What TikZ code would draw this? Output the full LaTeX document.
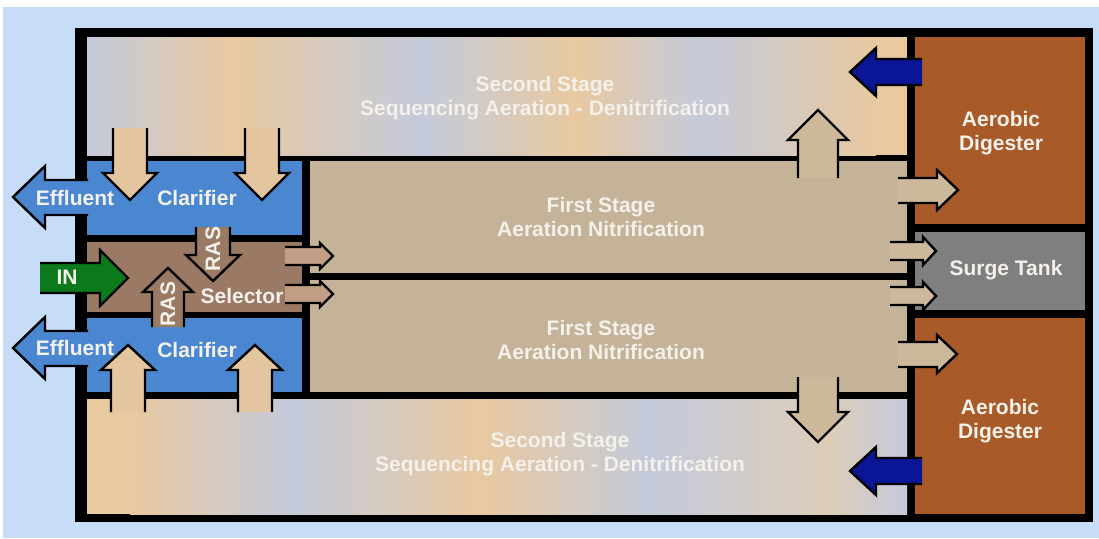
\documentclass[tikz,border=0pt]{standalone}
\usepackage{fontspec}
\setmainfont{Liberation Sans}
\definecolor{skyback}{HTML}{C7DCF6}
\definecolor{stagegrey}{HTML}{C4CADB}
\definecolor{stagetan}{HTML}{E8C9A0}
\definecolor{stagepale}{HTML}{DDCDB8}
\definecolor{firsttan}{HTML}{C4B398}
\definecolor{clarblue}{HTML}{4A87D0}
\definecolor{selbrown}{HTML}{9A7A64}
\definecolor{digbrown}{HTML}{A85A28}
\definecolor{surgegrey}{HTML}{7F7F7F}
\definecolor{ingreen}{HTML}{0C7A1C}
\definecolor{retblue}{HTML}{0A1696}
\definecolor{clartan}{HTML}{E3C6A0}
\definecolor{flowtan}{HTML}{CDB89C}
\definecolor{seltan}{HTML}{C39E86}
\definecolor{txtwhite}{HTML}{F4F0EA}

\begin{document}
\begin{tikzpicture}[x=1pt,y=-1pt]
\tikzset{txt/.style={text=txtwhite, font=\fontsize{21}{24}\selectfont\bfseries, align=center, inner sep=0pt},
arr/.style={draw=black, line width=2.4pt, line join=miter}}
\useasboundingbox (0,0) rectangle (1099,538);
\fill[white] (0,0) rectangle (1099,538);
\fill[skyback] (3,7) rectangle (1099,538);
% walls and basins
\fill[black] (75,28) rectangle (1093,522);
\fill[clarblue] (87,161) rectangle (302,235);
\fill[selbrown] (87,242) rectangle (302,312);
\fill[clarblue] (87,318) rectangle (302,392);
\fill[firsttan] (310,161) rectangle (907,273);
\fill[firsttan] (310,280) rectangle (907,392);
\fill[digbrown] (915,37) rectangle (1085,224);
\fill[surgegrey] (915,232) rectangle (1085,310);
\fill[digbrown] (915,318) rectangle (1085,514);
% second stage, top
\fill[stagetan] (860,37) rectangle (907,155);
\shade[left color=stagegrey, right color=stagetan] (87,37) rectangle (232,155);
\shade[left color=stagetan, right color=stagegrey] (231,37) rectangle (421,155);
\shade[left color=stagegrey, right color=stagetan] (420,37) rectangle (576,155);
\shade[left color=stagetan, right color=stagegrey] (575,37) rectangle (701,155);
\shade[left color=stagegrey, right color=stagetan] (700,37) rectangle (876,155);
% second stage, bottom
\fill[stagetan] (87,399) rectangle (140,514);
\shade[left color=stagetan, right color=stagegrey] (130,399) rectangle (291,514);
\shade[left color=stagegrey, right color=stagetan] (290,399) rectangle (481,514);
\shade[left color=stagetan, right color=stagegrey] (480,399) rectangle (651,514);
\shade[left color=stagegrey, right color=stagepale] (650,399) rectangle (831,514);
\shade[left color=stagepale, right color=stagegrey] (830,399) rectangle (907,514);
% flows
\filldraw[arr, fill=clarblue] (88,180) -- (45,180) -- (45,166) -- (13,197) -- (45,228) -- (45,215) -- (88,215);
\filldraw[arr, fill=clarblue] (88,331) -- (45,331) -- (45,317) -- (13,348) -- (45,379) -- (45,366) -- (88,366);
\filldraw[arr, fill=ingreen] (40,263) -- (100,263) -- (100,250) -- (128,278) -- (100,306) -- (100,293) -- (40,293);
\filldraw[arr, fill=clartan] (113,128) -- (113,173) -- (103,173) -- (130,200) -- (157,173) -- (147,173) -- (147,128);
\filldraw[arr, fill=clartan] (245,128) -- (245,173) -- (235,173) -- (262,200) -- (289,173) -- (279,173) -- (279,128);
\filldraw[arr, fill=clartan] (111,412) -- (111,370) -- (101,370) -- (128,345) -- (155,370) -- (145,370) -- (145,412);
\filldraw[arr, fill=clartan] (238,412) -- (238,370) -- (228,370) -- (255,345) -- (282,370) -- (272,370) -- (272,412);
\filldraw[arr, fill=selbrown] (196,227) -- (196,255) -- (186,255) -- (213,281) -- (240,255) -- (230,255) -- (230,227);
\filldraw[arr, fill=selbrown] (152,327) -- (152,292) -- (143,292) -- (168,268) -- (193,292) -- (184,292) -- (184,327);
\filldraw[arr, fill=seltan] (285,247) -- (320,247) -- (320,243) -- (333,256) -- (320,269) -- (320,265) -- (285,265);
\filldraw[arr, fill=seltan] (285,285) -- (320,285) -- (320,281) -- (333,294) -- (320,307) -- (320,303) -- (285,303);
\filldraw[arr, fill=flowtan] (798,178) -- (798,140) -- (788,140) -- (818,110) -- (848,140) -- (838,140) -- (838,178);
\filldraw[arr, fill=flowtan] (798,377) -- (798,412) -- (788,412) -- (818,442) -- (848,412) -- (838,412) -- (838,377);
\filldraw[arr, fill=flowtan] (898,178) -- (937,178) -- (937,170) -- (958,190) -- (937,210) -- (937,203) -- (898,203);
\filldraw[arr, fill=flowtan] (890,242) -- (923,242) -- (923,237) -- (936,251) -- (923,265) -- (923,260) -- (890,260);
\filldraw[arr, fill=flowtan] (890,287) -- (923,287) -- (923,282) -- (936,296) -- (923,310) -- (923,305) -- (890,305);
\filldraw[arr, fill=flowtan] (898,342) -- (937,342) -- (937,335) -- (957,354) -- (937,373) -- (937,367) -- (898,367);
\filldraw[arr, fill=retblue] (922,59) -- (876,59) -- (876,48) -- (850,72) -- (876,96) -- (876,85) -- (922,85);
\filldraw[arr, fill=retblue] (922,458) -- (876,458) -- (876,447) -- (850,471) -- (876,495) -- (876,484) -- (922,484);
% labels
\node[txt] (secondtop) at (545,98) {Second Stage\\Sequencing Aeration - Denitrification};
\node[txt] (secondbot) at (560,454) {Second Stage\\Sequencing Aeration - Denitrification};
\node[txt] (firsttop) at (601,217) {First Stage\\Aeration Nitrification};
\node[txt] (firstbot) at (601,340) {First Stage\\Aeration Nitrification};
\node[txt] (claritop) at (197,198) {Clarifier};
\node[txt] (claribot) at (197,350) {Clarifier};
\node[txt] (efftop) at (75,198) {Effluent};
\node[txt] (effbot) at (75,348) {Effluent};
\node[txt] (inflow) at (67,277) {IN};
\node[txt] (selector) at (242,296) {Selector};
\node[txt, rotate=90] (rasdown) at (213,249) {RAS};
\node[txt, rotate=90] (rasup) at (168,304) {RAS};
\node[txt] (digtop) at (1001,133) {Aerobic\\Digester};
\node[txt] (digbot) at (1000,421) {Aerobic\\Digester};
\node[txt] (surge) at (1006,270) {Surge Tank};
\end{tikzpicture}
\end{document}
